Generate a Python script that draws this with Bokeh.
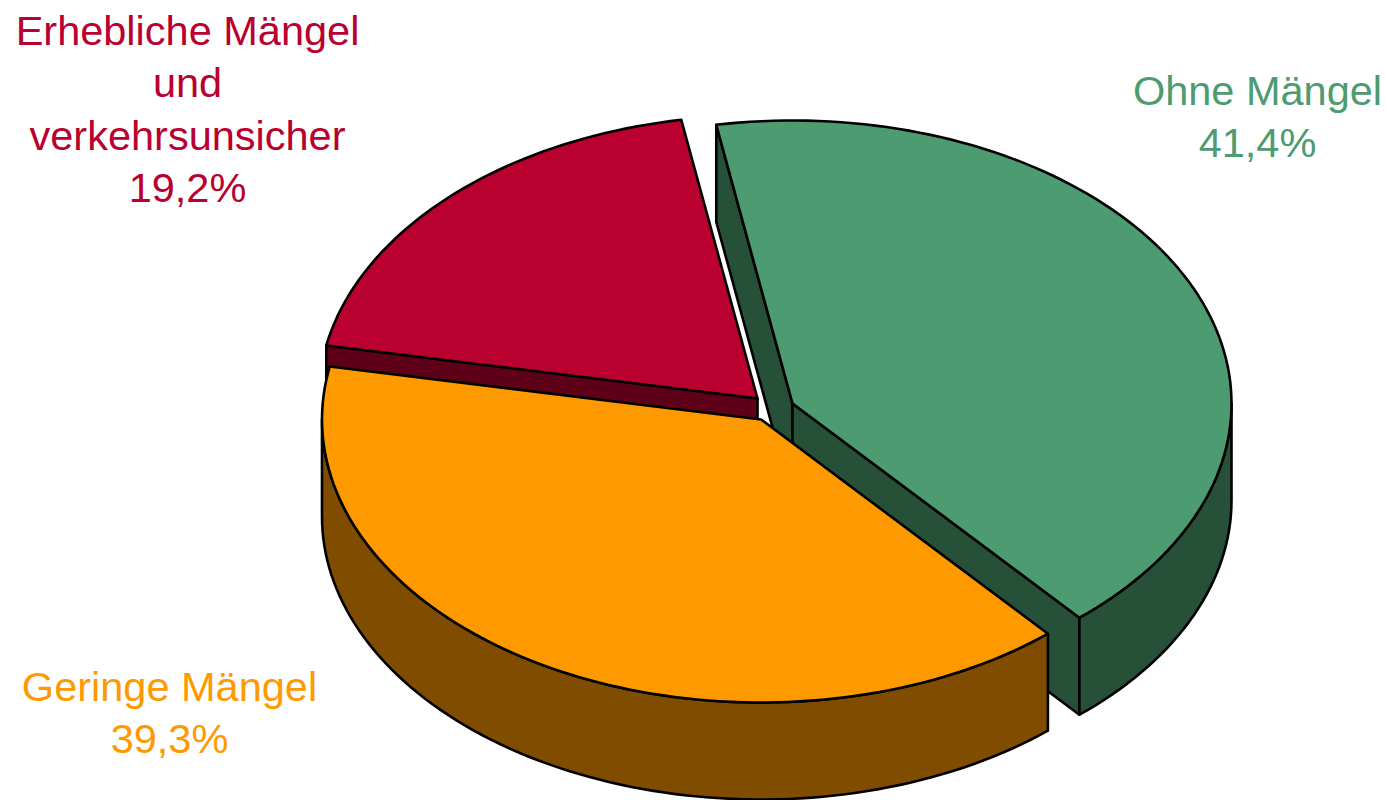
import numpy as np
from bokeh.plotting import figure
from bokeh.embed import file_html
from bokeh.resources import INLINE
from bokeh.core.properties import value

categories = ["Ohne Mängel", "Geringe Mängel", "Erhebliche Mängel und verkehrsunsicher"]
shares = [41.4, 39.3, 19.2]
share_labels = ["41,4%", "39,3%", "19,2%"]
top_colors = ["#4D9B70", "#FF9900", "#B9002F"]
side_colors = ["#275039", "#804D00", "#5D0018"]

START = -10.0
A, B, DEPTH = 439.0, 283.0, 97.0
CENTERS = [(792.0, 403.0), (760.5, 419.0), (757.0, 398.0)]

p = figure(width=1386, height=800, x_range=(0, 1386), y_range=(800, 0),
           output_backend="svg", toolbar_location=None, min_border=0,
           outline_line_color=None, background_fill_color="white", border_fill_color="white")
p.axis.visible = False
p.grid.visible = False

total = sum(shares)
edges = np.concatenate([[0.0], np.cumsum(shares)]) / total * 360.0 + START


def arc(c, a0, a1, dy=0.0):
    n = max(2, int(abs(a1 - a0) / 1.5) + 2)
    t = np.radians(np.linspace(a0, a1, n))
    return c[0] + A * np.sin(t), c[1] - B * np.cos(t) + dy


def poly(x, y, color):
    p.patch(list(x), list(y), fill_color=color, line_color="black", line_width=2.6, line_join="round")


def cut_wall(c, ang, color):
    x, y = arc(c, ang, ang)
    ex, ey = x[0], y[0]
    poly([c[0], ex, ex, c[0]], [c[1], ey, ey + DEPTH, c[1] + DEPTH], color)


def outer_wall(c, a0, a1, color):
    x0, y0 = arc(c, a0, a1)
    x1, y1 = arc(c, a0, a1, DEPTH)
    poly(np.concatenate([x0, x1[::-1]]), np.concatenate([y0, y1[::-1]]), color)


def top(c, a0, a1, color):
    x, y = arc(c, a0, a1)
    poly(np.concatenate([[c[0]], x]), np.concatenate([[c[1]], y]), color)


# back to front: red, green, orange
a0, a1 = edges[2], edges[3]
cut_wall(CENTERS[2], a0, side_colors[2])
top(CENTERS[2], a0, a1, top_colors[2])

a0, a1 = edges[0], edges[1]
cut_wall(CENTERS[0], a0, side_colors[0])
cut_wall(CENTERS[0], a1, side_colors[0])
outer_wall(CENTERS[0], 90, a1, side_colors[0])
top(CENTERS[0], a0, a1, top_colors[0])

a0, a1 = edges[1], edges[2]
outer_wall(CENTERS[1], a0, 270, side_colors[1])
top(CENTERS[1], a0, a1, top_colors[1])

labels = [
    ([categories[0], share_labels[0]], 1257, 90, top_colors[0]),
    ([categories[1], share_labels[1]], 169, 686, top_colors[1]),
    (["Erhebliche Mängel", "und", "verkehrsunsicher", share_labels[2]], 187, 30, top_colors[2]),
]
for lines, cx, y0, col in labels:
    for i, line in enumerate(lines):
        p.text([cx], [y0 + i * 52.3], text=[line], text_color=col, text_align="center",
               text_baseline="middle", text_font=value("Liberation Sans"), text_font_size="41.5px")

open("out.html", "w").write(file_html(p, INLINE))
